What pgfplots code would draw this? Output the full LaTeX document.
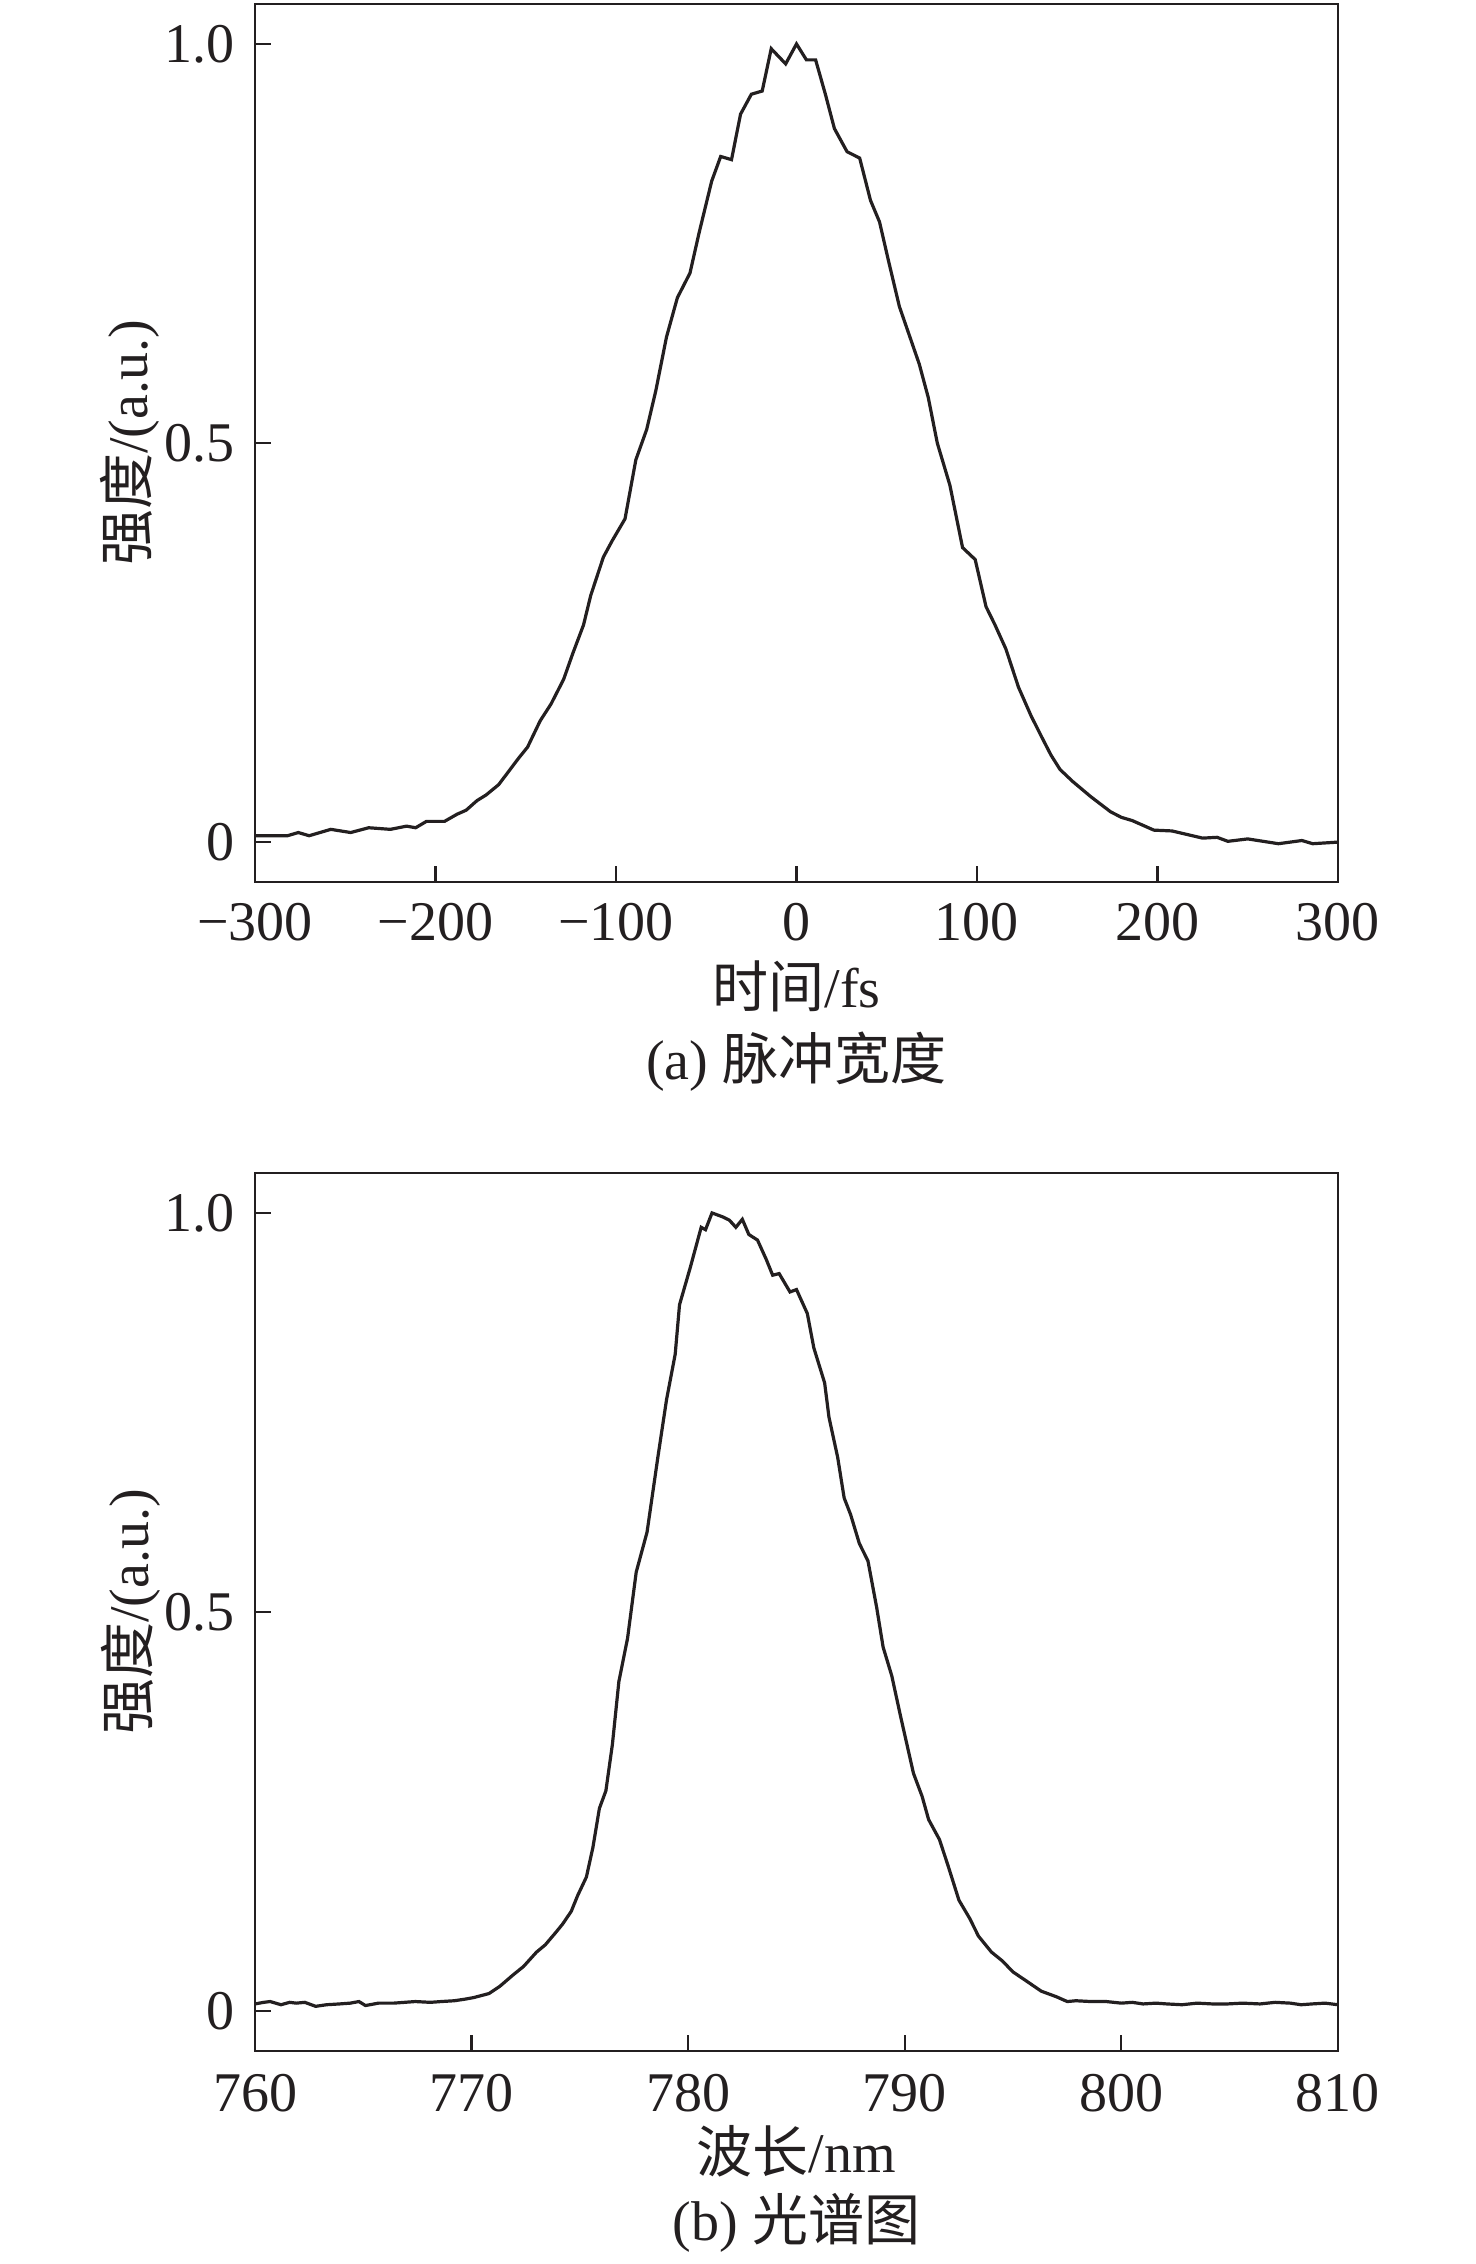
\documentclass[border=0pt]{standalone}
\usepackage{pgfplots}
\pgfplotsset{compat=1.18}
\usepackage{fontspec}
\setmainfont{Liberation Serif}
\newfontfamily\cjk{Noto Sans CJK SC}
\definecolor{ink}{HTML}{231F20}
\pgfplotsset{
  mystyle/.style={
    scale only axis, width=270.75pt, height=219.5pt,
    ymin=-0.05, ymax=1.05,
    ytick={0,0.5,1}, yticklabels={\mbox{0},\mbox{0.5},\mbox{1.0}},
    tick pos=left, tick align=inside, major tick length=4pt,
    axis line style={line width=0.55pt, ink},
    every tick/.style={ink, line width=0.55pt},
    tick label style={font=\fontsize{14pt}{16pt}\selectfont, text=ink},
    label style={font=\fontsize{14pt}{16pt}\selectfont, text=ink},
    yticklabel style={anchor=east, inner sep=0pt, xshift=-5pt},
    ylabel={{\cjk 强度}/(a.u.)},
    ylabel style={at={(axis description cs:-0.0988,0.5)}, anchor=base, inner sep=0pt},
    xlabel style={anchor=base, inner sep=0pt},
  }
}
\begin{document}
\begin{tikzpicture}
\useasboundingbox (0,0) rectangle (369pt,-566pt);
\begin{axis}[mystyle,
  at={(63.75pt,-220.5pt)}, anchor=south west,
  xmin=-300, xmax=300,
  xtick={-300,-200,-100,0,100,200,300},
  xticklabels={\mbox{−300},\mbox{−200},\mbox{−100},\mbox{0},\mbox{100},\mbox{200},\mbox{300}},
  xticklabel style={anchor=base, inner sep=0pt, yshift=-14.5pt},
  xlabel={{\cjk 时间}/fs},
  xlabel style={at={(axis description cs:0.5,-0.1424)}},
]
\addplot[ink, line width=0.8pt] coordinates {
(-300,0.008) (-282,0.008) (-276,0.012) (-270,0.008) (-258,0.016) (-247,0.012)
(-237,0.018) (-225,0.016) (-216,0.020) (-211,0.018) (-205,0.026) (-195,0.026)
(-188,0.035) (-183,0.040) (-177,0.052) (-172,0.059) (-165,0.072) (-159,0.090)
(-154,0.105) (-149,0.119) (-142,0.152) (-136,0.173) (-129,0.204) (-124,0.236)
(-118,0.272) (-114,0.309) (-107,0.357) (-102,0.378) (-95,0.405) (-89,0.479)
(-83,0.517) (-78,0.565) (-72,0.633) (-66,0.682) (-59,0.713) (-54,0.763)
(-47,0.828) (-42,0.859) (-36,0.855) (-31,0.912) (-25,0.937) (-19,0.941)
(-14,0.994) (-6,0.975) (0,1.000) (5.5,0.980) (10.6,0.980) (16,0.937)
(21,0.894) (28,0.865) (35,0.857) (41,0.804) (46,0.777) (51,0.728)
(57,0.671) (68,0.599) (73,0.557) (78,0.500) (85,0.447) (92,0.369)
(99,0.354) (105,0.295) (110,0.272) (116,0.242) (123,0.194) (130,0.158)
(136,0.131) (141,0.109) (146,0.091) (153,0.076) (163,0.057) (174,0.038)
(180,0.031) (186,0.027) (198,0.015) (208,0.014) (225,0.005) (233,0.006)
(239,0.001) (250,0.004) (267,-0.002) (280,0.002) (286,-0.002) (300,0.000)
};
\end{axis}
\node[anchor=base, inner sep=0pt, text=ink, font=\fontsize{14pt}{16pt}\selectfont] at (199.1pt,-269.75pt) {(a) {\cjk 脉冲宽度}};
\begin{axis}[mystyle,
  at={(63.75pt,-512.75pt)}, anchor=south west,
  xmin=760, xmax=810,
  xtick={760,770,780,790,800,810},
  xticklabels={\mbox{760},\mbox{770},\mbox{780},\mbox{790},\mbox{800},\mbox{810}},
  xticklabel style={anchor=base, inner sep=0pt, yshift=-15pt},
  xlabel={{\cjk 波长}/nm},
  xlabel style={at={(axis description cs:0.5,-0.1378)}},
]
\addplot[ink, line width=0.8pt] coordinates {
(760.0,0.009) (760.4,0.011) (760.7,0.012) (761.2,0.008) (761.6,0.011) (761.9,0.010)
(762.3,0.011) (762.8,0.006) (763.3,0.008) (763.9,0.009) (764.4,0.010) (764.8,0.012)
(765.1,0.007) (765.7,0.010) (766.4,0.010) (766.9,0.011) (767.4,0.012) (768.1,0.011)
(768.6,0.012) (769.2,0.013) (769.7,0.015) (770.1,0.017) (770.8,0.022) (771.3,0.031)
(771.9,0.045) (772.4,0.056) (773.0,0.074) (773.4,0.083) (773.9,0.099) (774.2,0.109)
(774.6,0.125) (774.9,0.145) (775.3,0.168) (775.6,0.205) (775.9,0.254) (776.2,0.276)
(776.5,0.334) (776.8,0.413) (777.2,0.467) (777.6,0.550) (778.1,0.600) (778.6,0.694)
(779.0,0.766) (779.4,0.823) (779.6,0.885) (780.1,0.932) (780.6,0.982) (780.8,0.979)
(781.1,1.000) (781.6,0.995) (781.9,0.991) (782.2,0.982) (782.5,0.992) (782.8,0.973)
(783.2,0.966) (783.6,0.942) (783.9,0.922) (784.2,0.924) (784.7,0.901) (785.0,0.904)
(785.5,0.874) (785.8,0.831) (786.3,0.787) (786.5,0.744) (786.9,0.694) (787.2,0.643)
(787.5,0.622) (787.9,0.586) (788.3,0.564) (788.7,0.506) (789.0,0.456) (789.4,0.420)
(789.8,0.370) (790.1,0.334) (790.4,0.298) (790.8,0.269) (791.1,0.240) (791.6,0.215)
(792.0,0.182) (792.5,0.139) (793.0,0.116) (793.4,0.094) (794.0,0.074) (794.5,0.063)
(795.0,0.049) (795.6,0.038) (796.3,0.025) (797.0,0.018) (797.5,0.012) (797.9,0.013)
(798.6,0.012) (799.3,0.012) (800.0,0.010) (800.5,0.011) (801.0,0.009) (801.6,0.010)
(802.1,0.009) (802.8,0.008) (803.5,0.010) (804.2,0.009) (804.9,0.009) (805.6,0.010)
(806.4,0.009) (807.1,0.011) (807.8,0.010) (808.3,0.008) (808.8,0.009) (809.4,0.010)
(810.0,0.008)
};
\end{axis}
\node[anchor=base, inner sep=0pt, text=ink, font=\fontsize{14pt}{16pt}\selectfont] at (199.1pt,-560pt) {(b) {\cjk 光谱图}};
\end{tikzpicture}
\end{document}
